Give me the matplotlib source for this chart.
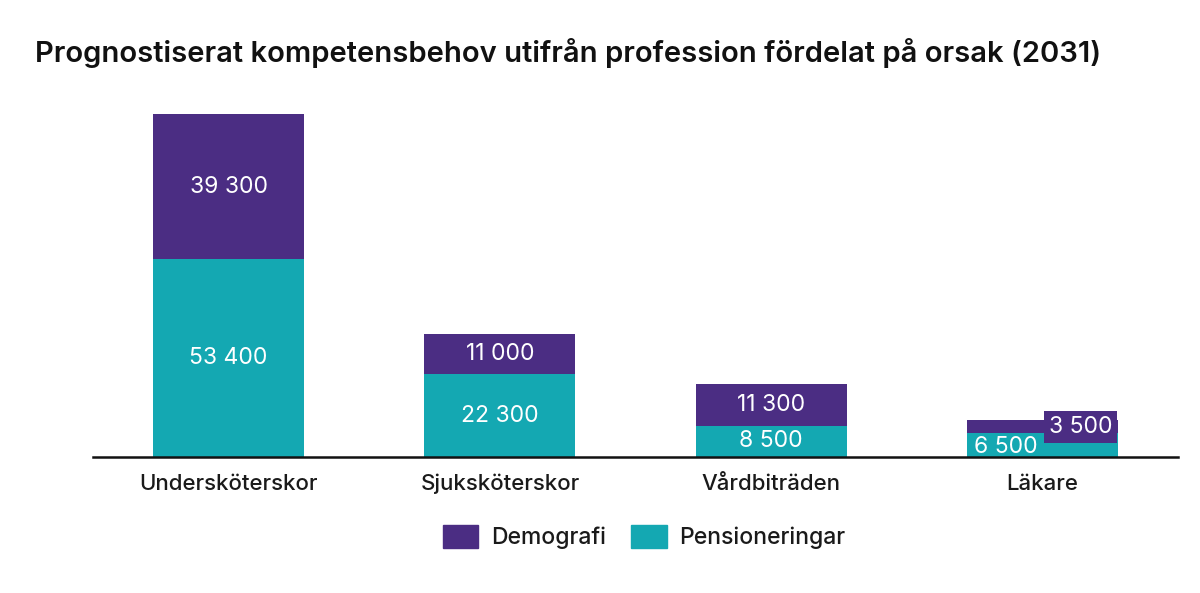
import numpy as np
import matplotlib
matplotlib.use('Agg')
import matplotlib.pyplot as plt
from matplotlib.patches import Patch

plt.rcParams['font.family'] = ['Inter', 'DejaVu Sans']

categories = ['Undersköterskor', 'Sjuksköterskor', 'Vårdbiträden', 'Läkare']
pensioneringar = [53400, 22300, 8500, 6500]
demografi = [39300, 11000, 11300, 3500]
pens_labels = ['53 400', '22 300', '8 500', '6 500']
demo_labels = ['39 300', '11 000', '11 300', '3 500']

purple = '#4b2d83'
teal = '#14a8b2'

fig = plt.figure(figsize=(12, 5.93), dpi=100)
ax = fig.add_axes([93/1200, (593-457)/593, (1178-93)/1200, 370/593])

x = np.arange(len(categories))
w = 0.556
ax.bar(x, pensioneringar, width=w, color=teal, zorder=2)
ax.bar(x, demografi, width=w, bottom=pensioneringar, color=purple, zorder=2)

ax.set_xlim(-0.5, 3.5)
ax.set_ylim(0, 100000)

# labels inside bars (first three)
for i in range(3):
    ax.text(x[i], pensioneringar[i] / 2, pens_labels[i], ha='center', va='center',
            color='white', fontsize=16.5, zorder=3)
    ax.text(x[i], pensioneringar[i] + demografi[i] / 2, demo_labels[i], ha='center',
            va='center', color='white', fontsize=16.5, zorder=3)

# Läkare: small bar, labels placed side by side
i = 3
ax.text(x[i] - w / 2 + 0.025, 2700, pens_labels[i], ha='left', va='center',
        color='white', fontsize=16.5, zorder=3)
ax.text(x[i] + w / 2 - 0.02, 8200, demo_labels[i], ha='right', va='center',
        color='white', fontsize=16.5, zorder=4,
        bbox=dict(boxstyle='square,pad=0.22', fc=purple, ec='none'))

for s in ['top', 'right', 'left']:
    ax.spines[s].set_visible(False)
ax.spines['bottom'].set_linewidth(1.8)
ax.spines['bottom'].set_color('#111111')
ax.set_yticks([])
ax.set_xticks(x)
ax.set_xticklabels(categories, fontsize=16, color='#1a1a1a', fontweight='medium')
ax.tick_params(axis='x', length=0, pad=12)

fig.text(35/1200, 1 - 53/593, 'Prognostiserat kompetensbehov utifrån profession fördelat på orsak (2031)',
         fontsize=21, fontweight='semibold', color='#111111', va='center', ha='left')

handles = [Patch(color=purple, label='Demografi'), Patch(color=teal, label='Pensioneringar')]
leg = fig.legend(handles=handles, loc='center', bbox_to_anchor=(644/1200, 1 - 537/593), ncol=2,
                 frameon=False, fontsize=16.5, handlelength=1.55, handleheight=1.15,
                 handletextpad=0.55, columnspacing=1.1, labelcolor='#1a1a1a')
for t in leg.get_texts():
    t.set_fontweight('medium')

fig.savefig('out.png', dpi=100, facecolor='white')
